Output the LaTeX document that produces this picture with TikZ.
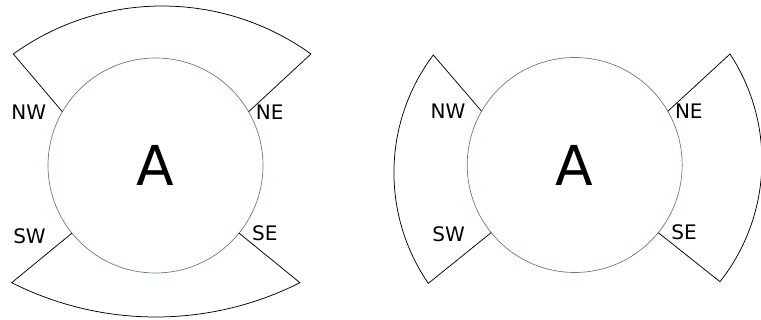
\documentclass[tikz,border=0pt]{standalone}
\usepackage{fontspec}
\setmainfont{DejaVu Sans}
\usetikzlibrary{positioning}
\definecolor{ringgreen}{RGB}{95,135,95}

\begin{document}
\begin{tikzpicture}[x=1pt, y=1pt]
    \tikzstyle{ring} = [circle, draw=ringgreen, line width=0.7pt, minimum size=215pt, inner sep=0pt, outer sep=0pt, font=\fontsize{55}{55}\selectfont]
    \tikzstyle{tag} = [inner sep=0pt, font=\fontsize{20}{20}\selectfont]
    \tikzstyle{sector} = [draw, line width=0.75pt]

    \useasboundingbox (0,0) rectangle (761,320);

    \node [ring] (left) at (155.5,154.5) {A};
    \node [ring] (right) at (574.7,155) {A};

    \node [tag, left=16pt of left.150] (left-nw) {NW};
    \node [tag, right=7pt of left.30] (left-ne) {NE};
    \node [tag, left=26pt of left.219, yshift=-3pt] (left-sw) {SW};
    \node [tag, right=13pt of left.-39] (left-se) {SE};

    \node [tag, left=16pt of right.150] (right-nw) {NW};
    \node [tag, right=7pt of right.30] (right-ne) {NE};
    \node [tag, left=26pt of right.219, yshift=-2pt] (right-sw) {SW};
    \node [tag, right=13pt of right.-39] (right-se) {SE};

    \coordinate (left-tl) at (13.3,266);
    \coordinate (left-bl) at (11.7,37.3);
    \coordinate (right-lt) at (433.3,265);
    \coordinate (right-rt) at (730,266);

    \path [sector] (left.150) -- (left-tl) arc [start angle=125.74, end angle=54.26, radius=254.8pt] -- (left.30);
    \path [sector] (left.219) -- (left-bl) arc [start angle=243.23, end angle=296.77, radius=320pt] -- (left.-39);
    \path [sector] (right.150) -- (right-lt) arc [start angle=143.0, end angle=214.5, radius=195.5pt] -- (right.219);
    \path [sector] (right.30) -- (right-rt) arc [start angle=33.27, end angle=-38.3, radius=194.9pt] -- (right.-39);
\end{tikzpicture}
\end{document}
